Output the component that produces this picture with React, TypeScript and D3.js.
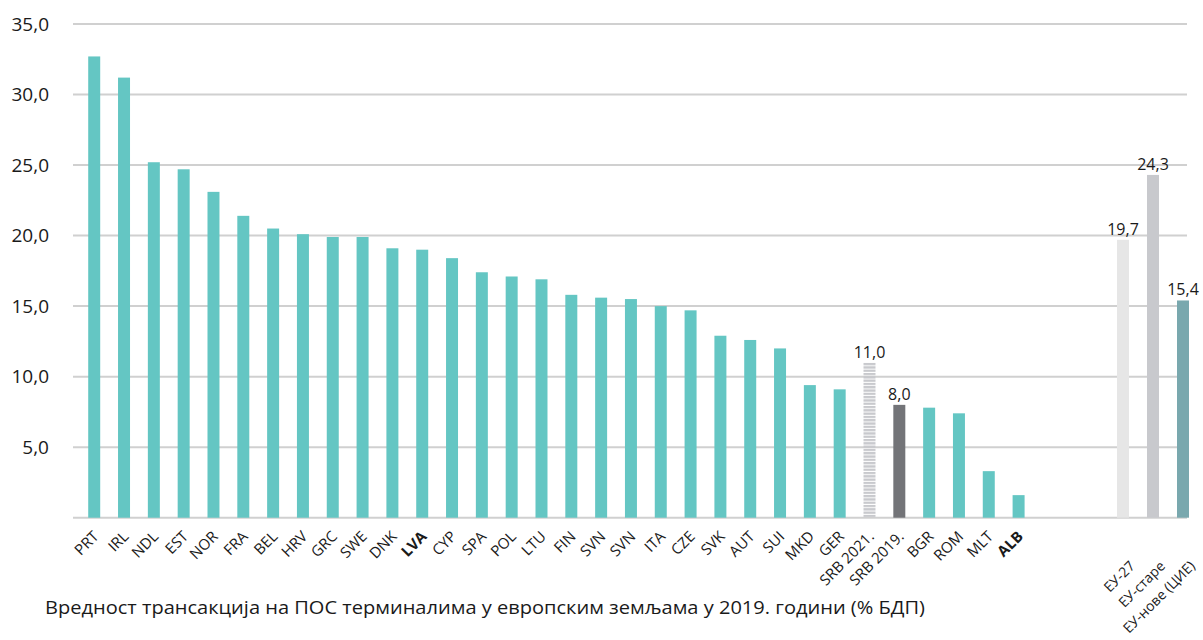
import React from "react";
import * as d3 from "d3";

const countries = ["PRT","IRL","NDL","EST","NOR","FRA","BEL","HRV","GRC","SWE","DNK","LVA","CYP","SPA","POL","LTU","FIN","SVN","SVN","ITA","CZE","SVK","AUT","SUI","MKD","GER","SRB 2021.","SRB 2019.","BGR","ROM","MLT","ALB"];
const countryValues = [32.7,31.2,25.2,24.7,23.1,21.4,20.5,20.1,19.9,19.9,19.1,19.0,18.4,17.4,17.1,16.9,15.8,15.6,15.5,15.0,14.7,12.9,12.6,12.0,9.4,9.1,11.0,8.0,7.8,7.4,3.3,1.6];
const boldLabels = ["LVA","ALB"];
const labeledCountries = ["SRB 2021.","SRB 2019."];
const euGroups = ["ЕУ-27","ЕУ-старе","ЕУ-нове (ЦИЕ)"];
const euValues = [19.7,24.3,15.4];
const yTicks = [0,5,10,15,20,25,30,35];
const caption = "Вредност трансакција на ПОС терминалима у европским земљама у 2019. години (% БДП)";

const W = 1203, H = 640;
const FONT = "'Open Sans', 'Noto Sans', sans-serif";
const TEAL = "#64c6c3";

const fmt = (v: number) => v.toFixed(1).replace(".", ",");

export default function App() {
  const y = d3.scaleLinear().domain([0, 35]).range([517.7, 24]);
  const x = d3.scaleBand<string>()
    .domain(countries.map((_, i) => String(i)))
    .range([79.3, 1033.5])
    .paddingInner(0.598)
    .paddingOuter(0.299);
  const xe = d3.scaleBand<string>()
    .domain(euGroups)
    .range([1108, 1198])
    .paddingInner(0.6)
    .paddingOuter(0.3);
  const euColors = ["#e6e6e6", "#c8c9cd", "#79a8ae"];

  const countryColor = (c: string) =>
    c === "SRB 2021." ? "url(#stripes)" : c === "SRB 2019." ? "#737478" : TEAL;

  return (
    <svg width={W} height={H} style={{ position: "absolute", left: 0, top: 0, background: "#fff" }} fontFamily={FONT}>
      <defs>
        <pattern id="stripes" patternUnits="userSpaceOnUse" width="12" height="3.3">
          <rect x="0" y="0" width="12" height="2.3" fill="#c8c9cd" />
        </pattern>
      </defs>
      <rect width={W} height={H} fill="#fff" />
      {yTicks.map((t) => (
        <g key={t}>
          <line x1={73} x2={1187} y1={y(t)} y2={y(t)} stroke="#d0d0d0" strokeWidth={2} />
          {t > 0 && (
            <text x={49} y={y(t)} dy="0.36em" textAnchor="end" fontSize={19} fill="#1a1a1a">
              {fmt(t)}
            </text>
          )}
        </g>
      ))}
      {countries.map((c, i) => {
        const v = countryValues[i];
        const bx = x(String(i))!;
        const bw = x.bandwidth();
        const cx = bx + bw / 2;
        return (
          <g key={i}>
            <rect x={bx} y={y(v)} width={bw} height={y(0) - y(v)} fill={countryColor(c)} />
            {labeledCountries.includes(c) && (
              <text x={cx} y={y(v) - 5} textAnchor="middle" fontSize={16} fill="#1a1a1a">
                {fmt(v)}
              </text>
            )}
            <text
              transform={`translate(${cx - 2},${530}) rotate(-45)`}
              textAnchor="end"
              dy="0.7em"
              fontSize={15}
              fontWeight={boldLabels.includes(c) ? 700 : 400}
              fill="#1a1a1a"
            >
              {c}
            </text>
          </g>
        );
      })}
      {euGroups.map((g, i) => {
        const v = euValues[i];
        const bx = xe(g)!;
        const bw = xe.bandwidth();
        const cx = bx + bw / 2;
        return (
          <g key={g}>
            <rect x={bx} y={y(v)} width={bw} height={y(0) - y(v)} fill={euColors[i]} />
            <text x={cx} y={y(v) - 5} textAnchor="middle" fontSize={16} fill="#1a1a1a">
              {fmt(v)}
            </text>
            <text
              transform={`translate(${cx + 6},${560}) rotate(-45)`}
              textAnchor="end"
              dy="0.7em"
              fontSize={14}
              fill="#1a1a1a"
            >
              {g}
            </text>
          </g>
        );
      })}
      <text x={45} y={614} fontSize={19} textLength={880} lengthAdjust="spacingAndGlyphs" fill="#1a1a1a">
        {caption}
      </text>
    </svg>
  );
}
